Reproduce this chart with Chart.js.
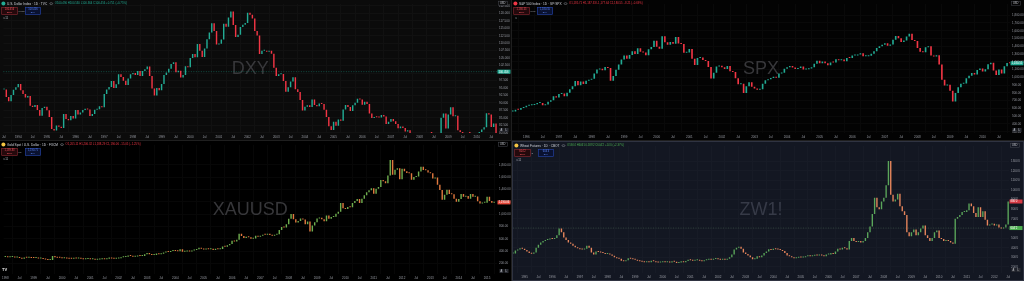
<!DOCTYPE html>
<html>
<head>
<meta charset="utf-8">
<script src="https://cdn.jsdelivr.net/npm/chart.js@4.4.1/dist/chart.umd.min.js"></script>
<style>
html, body { margin: 0; padding: 0; width: 1024px; height: 281px; overflow: hidden; background: #1f1f1f; }
.pane { position: absolute; }
.pane canvas { display: block; }
</style>
</head>
<body>
<div class="pane" style="left:0;top:0;width:511px;height:140px;background:#0b0b0b"><canvas id="dxy"></canvas></div>
<div class="pane" style="left:512px;top:0;width:512px;height:140px;background:#030303"><canvas id="spx"></canvas></div>
<div class="pane" style="left:0;top:141px;width:511px;height:140px;background:#000"><canvas id="gold"></canvas></div>
<div class="pane" style="left:512px;top:141px;width:510px;height:138px;background:#131722;border:1px solid #2f3341"><canvas id="wheat"></canvas></div>
<script>
// monthly closes
const dxyStart = 1993.5;   // Jul 1993
const dxyClose = [
  94.5, 92.0, 90.5, 92.6, 94.4, 95.2,
  96.3, 94.2, 93.0, 91.8, 92.3, 89.0, 88.6, 89.3, 87.6, 85.7, 88.3, 88.7,
  87.5, 85.3, 81.2, 80.7, 82.4, 82.0, 81.6, 86.3, 84.6, 84.2, 85.6, 84.8,
  87.6, 86.1, 86.8, 87.6, 88.0, 87.8, 85.6, 86.3, 87.7, 87.9, 88.9, 88.5,
  93.0, 94.5, 95.3, 97.3, 95.0, 96.2, 99.6, 98.7, 97.4, 96.0, 98.2, 99.6,
  100.0, 99.3, 100.7, 99.0, 100.7, 101.3, 102.2, 99.0, 94.8, 92.5, 95.0, 94.2,
  96.3, 99.3, 100.2, 101.4, 103.0, 103.6, 100.3, 100.8, 98.5, 99.3, 102.3, 101.9,
  105.0, 106.4, 105.3, 109.7, 107.5, 105.4, 108.2, 111.3, 113.6, 116.7, 114.1, 109.6,
  109.8, 111.2, 116.5, 115.5, 118.6, 120.6, 116.1, 112.1, 112.8, 115.4, 116.2, 116.8,
  120.2, 119.5, 118.3, 114.1, 112.6, 106.4, 107.5, 107.5, 107.1, 107.5, 106.5, 101.8,
  99.0, 99.6, 99.7, 97.3, 93.7, 95.2, 97.2, 98.6, 94.6, 93.6, 91.0, 87.4,
  88.7, 89.2, 88.6, 91.1, 89.3, 88.9, 89.8, 89.6, 87.7, 85.3, 82.2, 80.9,
  83.7, 82.3, 84.4, 84.0, 87.8, 89.3, 88.6, 87.3, 89.2, 90.0, 91.4, 91.1,
  89.4, 90.4, 89.6, 86.4, 84.9, 85.3, 85.2, 85.1, 85.9, 85.4, 82.9, 83.7,
  84.6, 83.8, 82.9, 81.5, 82.1, 81.6, 80.4, 80.8, 78.1, 76.3, 75.8, 76.7,
  75.3, 74.0, 71.8, 73.0, 72.6, 72.5, 73.1, 77.2, 78.8, 85.0, 86.4, 81.4,
  86.1, 88.5, 85.5, 85.7, 80.8, 80.2, 78.8, 78.4, 76.7, 76.5, 74.6, 77.9,
  79.5, 80.2, 81.1, 81.8, 86.5, 86.1, 81.9, 83.1, 78.6
];

const spxStart = 1995 + 7 / 12;   // Aug 1995
const spxClose = [
  561.9, 584.4, 581.5, 605.4, 615.9,
  636.0, 640.4, 645.5, 654.2, 669.1, 670.6, 639.9, 651.9, 687.3, 705.3, 757.0, 740.7,
  786.2, 790.8, 757.1, 801.3, 848.3, 885.1, 954.3, 899.5, 947.3, 914.6, 955.4, 970.4,
  980.3, 1049.3, 1101.8, 1111.8, 1090.8, 1133.8, 1120.7, 957.3, 1017.0, 1098.7, 1163.6, 1229.2,
  1279.6, 1238.3, 1286.4, 1335.2, 1301.8, 1372.7, 1328.7, 1320.4, 1282.7, 1362.9, 1388.9, 1469.3,
  1394.5, 1366.4, 1530.0, 1452.4, 1420.6, 1454.6, 1430.8, 1517.7, 1436.5, 1429.4, 1314.9, 1320.3,
  1366.0, 1239.9, 1160.3, 1249.5, 1255.8, 1224.4, 1211.2, 1133.6, 985.0, 1059.8, 1139.5, 1148.1,
  1130.2, 1106.7, 1147.4, 1076.9, 1067.1, 989.8, 911.6, 916.1, 800.0, 885.8, 936.3, 879.8,
  855.7, 841.2, 848.2, 916.9, 963.6, 974.5, 990.3, 1008.0, 996.0, 1050.7, 1058.2, 1111.9,
  1131.1, 1144.9, 1126.2, 1107.3, 1120.7, 1140.8, 1101.7, 1104.2, 1114.6, 1130.2, 1173.8, 1211.9,
  1181.3, 1203.6, 1180.6, 1156.9, 1191.5, 1191.3, 1234.2, 1220.3, 1228.8, 1207.0, 1249.5, 1248.3,
  1280.1, 1280.7, 1294.8, 1310.6, 1270.1, 1270.2, 1276.7, 1303.8, 1335.9, 1377.9, 1400.6, 1418.3,
  1438.2, 1406.8, 1420.9, 1482.4, 1530.6, 1503.4, 1455.3, 1473.9, 1526.8, 1560.0, 1481.1, 1468.4,
  1378.6, 1330.6, 1322.7, 1385.6, 1400.4, 1280.0, 1267.4, 1282.8, 1166.4, 968.8, 896.2, 903.3,
  825.9, 690.0, 797.9, 872.8, 919.1, 919.3, 987.5, 1020.6, 1057.1, 1036.2, 1095.6, 1115.1,
  1073.9, 1104.5, 1169.4, 1186.7, 1089.4, 1030.7, 1101.6, 1049.3, 1141.2, 1183.3, 1180.6
];

const goldStart = 1998;   // Jan 1998
const goldClose = [
  303, 297, 301, 309, 294, 296, 288, 273, 294, 292, 294, 288,
  287, 287, 280, 287, 268, 262, 255, 255, 320, 300, 292, 290,
  283, 293, 278, 276, 272, 289, 277, 278, 273, 264, 269, 273,
  265, 267, 258, 263, 266, 270, 266, 273, 293, 279, 275, 279,
  282, 297, 302, 308, 326, 318, 305, 312, 324, 317, 317, 347,
  368, 347, 334, 336, 361, 346, 354, 375, 388, 384, 398, 416,
  402, 396, 427, 388, 393, 395, 391, 407, 415, 428, 452, 438,
  423, 435, 428, 435, 415, 436, 429, 433, 473, 470, 495, 513,
  568, 556, 582, 680, 643, 613, 632, 623, 599, 604, 646, 632,
  650, 664, 663, 679, 659, 650, 665, 672, 743, 789, 783, 834,
  923, 1000, 916, 865, 886, 928, 913, 833, 880, 718, 816, 869,
  927, 942, 916, 883, 979, 926, 954, 955, 1007, 1040, 1182, 1096,
  1081, 1116, 1113, 1179, 1212, 1244, 1181, 1248, 1307, 1357, 1386, 1421,
  1333, 1411, 1439, 1556, 1536, 1500, 1628, 1880, 1640, 1722, 1746, 1565,
  1738, 1697, 1668, 1663, 1560, 1604, 1610, 1691, 1772, 1719, 1713, 1675,
  1664, 1578, 1596, 1476, 1393, 1234, 1313, 1395, 1327, 1323, 1250, 1202,
  1244, 1326, 1284, 1296, 1250, 1327, 1282, 1287, 1210, 1172, 1183, 1184,
  1283, 1212, 1183, 1184
];

const wheatStart = 1994 + 7 / 12;   // Aug 1994
const wheatClose = [
  340, 370, 380, 395, 390,
  375, 360, 345, 338, 350, 400, 430, 455, 470, 480, 485, 492,
  490, 500, 530, 600, 560, 505, 480, 455, 440, 420, 405, 395,
  385, 380, 390, 420, 400, 350, 330, 360, 355, 350, 345, 335,
  335, 330, 315, 300, 290, 285, 265, 260, 270, 290, 285, 280,
  275, 265, 260, 255, 250, 255, 250, 265, 260, 250, 245, 250,
  255, 250, 250, 245, 260, 255, 240, 245, 260, 250, 262, 275,
  270, 265, 270, 275, 265, 260, 270, 275, 280, 275, 282, 285,
  280, 275, 280, 275, 285, 300, 330, 380, 400, 410, 390, 350,
  335, 320, 300, 280, 285, 310, 300, 320, 345, 360, 385, 375,
  390, 385, 380, 375, 365, 345, 320, 310, 300, 290, 295, 300,
  298, 300, 310, 320, 310, 315, 320, 318, 325, 320, 310, 330,
  330, 345, 335, 360, 390, 380, 400, 395, 380, 470, 500, 470,
  460, 470, 455, 470, 500, 560, 620, 750, 920, 820, 800, 880,
  920, 1050, 1300, 950, 880, 900, 960, 830, 780, 740, 560, 520,
  560, 590, 530, 560, 600, 630, 530, 500, 470, 500, 560, 580,
  500, 490, 470, 480, 470, 455, 440, 700, 720, 740, 770, 770,
  790, 860, 830, 760, 720, 820, 720, 780, 690, 630, 640, 650,
  630, 640, 610, 600, 610, 640, 880
];

const fam = "'Liberation Sans', Arial, sans-serif";
const axisText = "#9a9da5";

Chart.defaults.font.family = fam;
Chart.defaults.font.size = 3;
Chart.defaults.animation = false;

// year / Jul ticks on the time axis
function halfYearTicks(scale) {
  const t = [];
  for (let v = Math.ceil(scale.min * 2) / 2; v <= scale.max; v += 0.5) {
    t.push({ value: v });
  }
  scale.ticks = t;
}
function yearLabel(v) {
  return Number.isInteger(v) ? String(v) : "Jul";
}

function box(ctx, x, y, w, h, stroke, fill, top, bottom, color) {
  ctx.fillStyle = fill;
  ctx.fillRect(x, y, w, h);
  ctx.strokeStyle = stroke;
  ctx.lineWidth = 0.6;
  ctx.strokeRect(x, y, w, h);
  ctx.fillStyle = color;
  ctx.textAlign = "center";
  ctx.font = "2.6px " + fam;
  ctx.fillText(top, x + w / 2, y + 2.4);
  ctx.font = "2.2px " + fam;
  ctx.fillText(bottom, x + w / 2, y + 5.2);
  ctx.textAlign = "left";
}

const tvDecor = {
  id: "tvDecor",
  beforeDatasetsDraw(chart, args, o) {
    const { ctx, chartArea: a } = chart;
    ctx.save();
    ctx.font = "18px " + fam;
    ctx.fillStyle = o.markColor;
    ctx.textAlign = "center";
    ctx.textBaseline = "middle";
    ctx.fillText(o.mark, (a.left + a.right) / 2, (a.top + a.bottom) / 2 + 1);
    if (o.line != null) {
      const y = chart.scales.y.getPixelForValue(o.line);
      ctx.setLineDash([1, 1.5]);
      ctx.strokeStyle = o.lineColor;
      ctx.lineWidth = 0.6;
      ctx.beginPath();
      ctx.moveTo(a.left, y);
      ctx.lineTo(a.right, y);
      ctx.stroke();
    }
    ctx.restore();
  },
  afterDraw(chart, args, o) {
    const { ctx, chartArea: a, width } = chart;
    ctx.save();
    ctx.textBaseline = "middle";
    ctx.textAlign = "left";

    // price tags on the axis
    o.tags.forEach(t => {
      const y = chart.scales.y.getPixelForValue(t.value);
      ctx.fillStyle = t.color;
      ctx.fillRect(a.right + 0.5, y - 2, width - a.right - 1, 4);
      ctx.fillStyle = "#ffffff";
      ctx.font = "2.8px " + fam;
      ctx.fillText(t.text, a.right + 1.5, y + 0.2);
    });

    // USD button and A / L buttons
    ctx.strokeStyle = "#4a4d55";
    ctx.lineWidth = 0.5;
    ctx.fillStyle = o.bg;
    ctx.fillRect(a.right + 1.5, 1.2, 9, 4);
    ctx.strokeRect(a.right + 1.5, 1.2, 9, 4);
    ctx.fillStyle = "#c8cad0";
    ctx.font = "2.6px " + fam;
    ctx.fillText("USD", a.right + 3, 3.3);
    ctx.fillStyle = "#2a2c33";
    ctx.fillRect(a.right + 2.5, a.bottom - 5, 4, 4);
    ctx.fillRect(a.right + 7.5, a.bottom - 5, 4, 4);
    ctx.fillStyle = "#c8cad0";
    ctx.fillText("A", a.right + 3.5, a.bottom - 2.9);
    ctx.fillText("L", a.right + 8.6, a.bottom - 2.9);

    // legend row 1
    ctx.fillStyle = o.icon;
    ctx.beginPath();
    ctx.arc(3.4, 3.6, 2, 0, Math.PI * 2);
    ctx.fill();
    ctx.font = "3.2px " + fam;
    ctx.fillStyle = "#d1d4dc";
    ctx.fillText(o.title, 7, 3.7);
    let x = 7 + ctx.measureText(o.title).width + 2.5;
    ctx.strokeStyle = "#9598a1";
    ctx.lineWidth = 0.5;
    ctx.beginPath();
    ctx.ellipse(x + 1.5, 3.6, 1.5, 0.9, 0, 0, Math.PI * 2);
    ctx.stroke();
    x += 5;
    ctx.fillStyle = o.ohlcColor;
    ctx.font = "2.8px " + fam;
    ctx.fillText(o.ohlc, x, 3.7);

    // sell / buy boxes
    box(ctx, 1.7, 7.3, 15.6, 7.2, "#8e2b33", "#24090c", o.sell, "SELL", "#f0535e");
    ctx.fillStyle = "#b2b5be";
    ctx.font = "2.4px " + fam;
    ctx.fillText(o.spread, 18.6, 11);
    box(ctx, 25.3, 7.3, 15.4, 7.2, "#2748b0", "#0a1230", o.buy, "BUY", "#5b82f0");

    // indicator count row
    ctx.fillStyle = "#b2b5be";
    ctx.font = "2.8px " + fam;
    ctx.fillText(o.count, 2.5, 18.6);

    if (o.logo) {
      ctx.fillStyle = "#e8e8e8";
      ctx.font = "bold 4px " + fam;
      ctx.fillText("TV", 2, a.bottom - 4);
    }
    ctx.restore();
  }
};

function makeChart(id, p) {
  const pts = p.close.map((c, i) => ({ x: p.start + i / 12, y: [i ? p.close[i - 1] : c, c] }));
  const cols = p.close.map((c, i) => (i && c < p.close[i - 1]) ? p.down : p.up);
  return new Chart(document.getElementById(id), {
    type: "bar",
    data: {
      datasets: [{
        data: pts,
        backgroundColor: cols,
        borderWidth: 0,
        minBarLength: 1,
        barPercentage: 0.6,
        categoryPercentage: 1,
        clip: 0
      }]
    },
    options: {
      responsive: true,
      maintainAspectRatio: false,
      layout: { padding: 0 },
      plugins: {
        legend: { display: false },
        tooltip: { enabled: false },
        tvDecor: p.decor
      },
      scales: {
        x: {
          type: "linear",
          min: p.xMin,
          max: p.xMax,
          offset: false,
          afterBuildTicks: halfYearTicks,
          afterFit: s => { s.height = 7; },
          grid: { color: p.grid, drawTicks: false },
          border: { display: false },
          ticks: { callback: yearLabel, autoSkip: false, maxRotation: 0, padding: 2, color: axisText }
        },
        y: {
          position: "right",
          min: p.yMin,
          max: p.yMax,
          afterFit: s => { s.width = 14; },
          grid: { color: p.grid, drawTicks: false },
          border: { display: false },
          ticks: { stepSize: p.step, includeBounds: false, callback: p.fmt, padding: 2, color: axisText }
        }
      }
    },
    plugins: [tvDecor]
  });
}

const money = v => v.toLocaleString("en-US", { minimumFractionDigits: 2, maximumFractionDigits: 2 });

makeChart("dxy", {
  close: dxyClose, start: dxyStart,
  xMin: 1993.48, xMax: 2010.7, yMin: 79.9, yMax: 123.2, step: 2.5,
  fmt: v => v.toFixed(3),
  up: "#22ab94", down: "#f23645", grid: "#111111",
  decor: {
    bg: "#0b0b0b", mark: "DXY", markColor: "#38383b",
    line: 100.456, lineColor: "#177a6a",
    tags: [{ value: 100.456, color: "#22ab94", text: "100.456" }],
    icon: "#22ab94", title: "U.S. Dollar Index · 1D · TVC",
    ohlc: "O100.490 H100.530 L100.364 C100.456 +0.751 (+0.75%)", ohlcColor: "#22ab94",
    sell: "100.456", buy: "100.456", spread: "0.000", count: "∨ 11"
  }
});

makeChart("spx", {
  close: spxClose, start: spxStart,
  xMin: 1995.56, xMax: 2010.84, yMin: 284, yMax: 1946, step: 100,
  fmt: v => (v > 1800 ? null : money(v)),
  up: "#22ab94", down: "#f23645", grid: "#090909",
  decor: {
    bg: "#030303", mark: "SPX", markColor: "#37373a",
    line: null, lineColor: "",
    tags: [{ value: 1180.55, color: "#22ab94", text: "1,180.55" }],
    icon: "#f23645", title: "S&P 500 Index · 1D · SP:SPX",
    ohlc: "O1,185.71 H1,187.33 L1,177.64 C1,180.55 −8.21 (−0.69%)", ohlcColor: "#f23645",
    sell: "1,180.55", buy: "1,180.55", spread: "0.00", count: "∨"
  }
});

makeChart("gold", {
  close: goldClose, start: goldStart,
  xMin: 1997.94, xMax: 2015.35, yMin: 26, yMax: 2127, step: 200,
  fmt: v => (v > 1800 ? null : money(v)),
  up: "#6fae4f", down: "#e0783e", grid: "#070707",
  decor: {
    bg: "#000000", mark: "XAUUSD", markColor: "#37373a",
    line: null, lineColor: "",
    tags: [{ value: 1190.06, color: "#e8483a", text: "1,190.06" }],
    icon: "#f5c542", title: "Gold Spot / U.S. Dollar · 1D · FXCM",
    ohlc: "O1,205.11 H1,206.32 L1,188.29 C1,190.06 −15.05 (−1.25%)", ohlcColor: "#f23645",
    sell: "1,189.83", buy: "1,190.71", spread: "88", count: "∨ 11", logo: true
  }
});

makeChart("wheat", {
  close: wheatClose, start: wheatStart,
  xMin: 1994.58, xMax: 2012.53, yMin: 137, yMax: 1459, step: 100,
  fmt: v => (v > 1300 ? null : v + "'0"),
  up: "#5aa55a", down: "#e8865c", grid: "#171b26",
  decor: {
    bg: "#131722", mark: "ZW1!", markColor: "#363a47",
    line: 604.25, lineColor: "#3f5a48",
    tags: [{ value: 880, color: "#d63a44", text: "880'0" }, { value: 604.25, color: "#4caf50", text: "604'2" }],
    icon: "#f5c542", title: "Wheat Futures · 1D · CBOT",
    ohlc: "O590'4 H606'0 L589'2 C604'2 +14'0 (+2.37%)", ohlcColor: "#4caf50",
    sell: "604'2", buy: "604'4", spread: "2", count: "∨ 11"
  }
});
</script>
</body>
</html>
